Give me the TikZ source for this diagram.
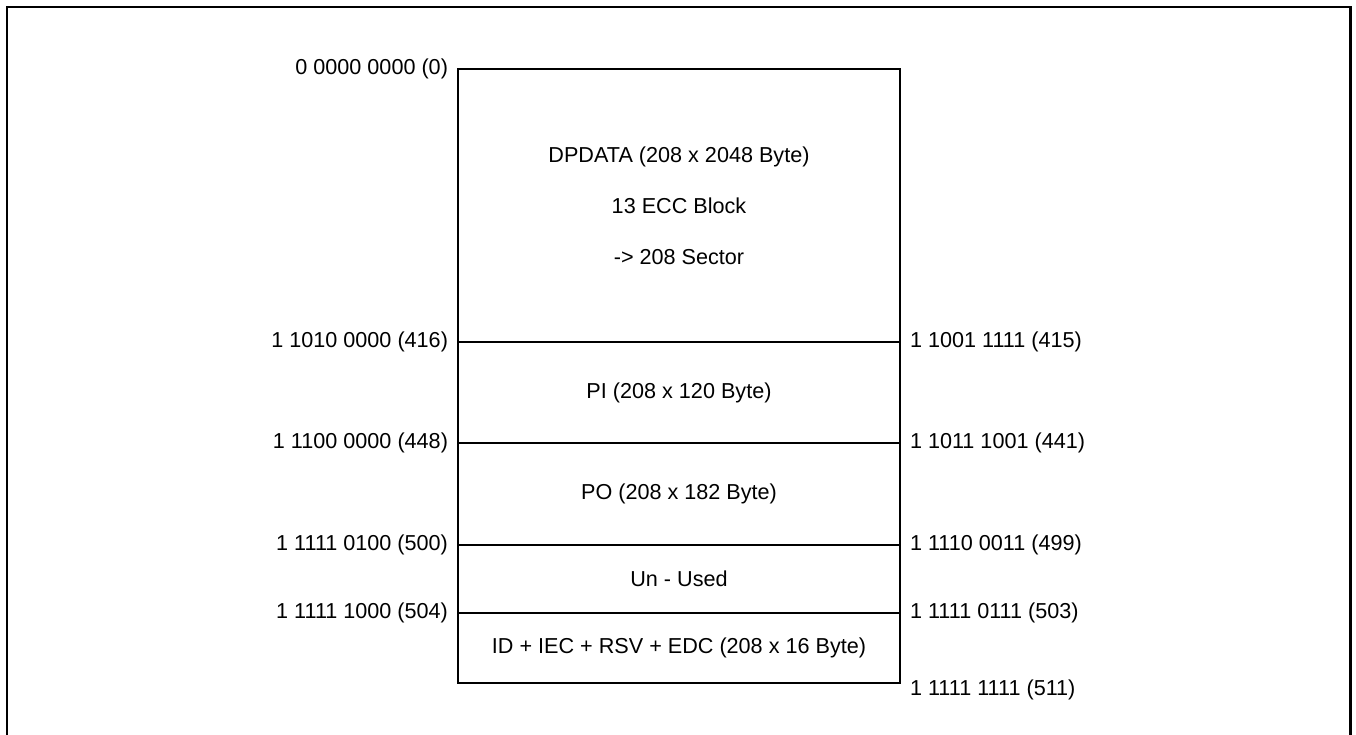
\documentclass[tikz,border=0pt]{standalone}
\usepackage{fontspec}
\setmainfont{Liberation Sans}
\usetikzlibrary{positioning}
\tikzstyle{sect}=[rectangle,draw,line width=0.75pt,minimum width=8.84cm,inner sep=0pt,outer sep=0pt,text centered]
\tikzstyle{addr}=[inner sep=0pt,outer sep=0pt]
\tikzstyle{frame}=[line width=1.7pt]

\begin{document}
\begin{tikzpicture}[font=\fontsize{12.3}{14}\selectfont]
\useasboundingbox (0,0) rectangle (27.12,-14.70);
\draw [frame] (0.14,-14.9) |- (27.0,-0.14) -- (27.0,-14.9);

% memory sections
\node (dp) [sect,minimum height=5.46cm,anchor=north west,align=center,font=\fontsize{12.3}{29}\selectfont] at (9.16,-1.38) {DPDATA (208 x 2048 Byte)\\13 ECC Block\\-> 208 Sector};
\node (pi) [sect,minimum height=2.02cm,below=0pt of dp] {PI (208 x 120 Byte)};
\node (po) [sect,minimum height=2.04cm,below=0pt of pi] {PO (208 x 182 Byte)};
\node (un) [sect,minimum height=1.36cm,below=0pt of po] {Un - Used};
\node (id) [sect,minimum height=1.40cm,below=0pt of un] {ID + IEC + RSV + EDC (208 x 16 Byte)};

% start addresses
\node (a0) [addr,left=0.2cm of dp.north west] {0 0000 0000 (0)};
\node (a416) [addr,left=0.2cm of pi.north west] {1 1010 0000 (416)};
\node (a448) [addr,left=0.2cm of po.north west] {1 1100 0000 (448)};
\node (a500) [addr,left=0.2cm of un.north west] {1 1111 0100 (500)};
\node (a504) [addr,left=0.2cm of id.north west] {1 1111 1000 (504)};

% end addresses
\node (a415) [addr,right=0.2cm of dp.south east] {1 1001 1111 (415)};
\node (a441) [addr,right=0.2cm of pi.south east] {1 1011 1001 (441)};
\node (a499) [addr,right=0.2cm of po.south east] {1 1110 0011 (499)};
\node (a503) [addr,right=0.2cm of un.south east] {1 1111 0111 (503)};
\node (a511) [addr,right=0.2cm of id.south east,yshift=-0.14cm] {1 1111 1111 (511)};

\end{tikzpicture}
\end{document}
